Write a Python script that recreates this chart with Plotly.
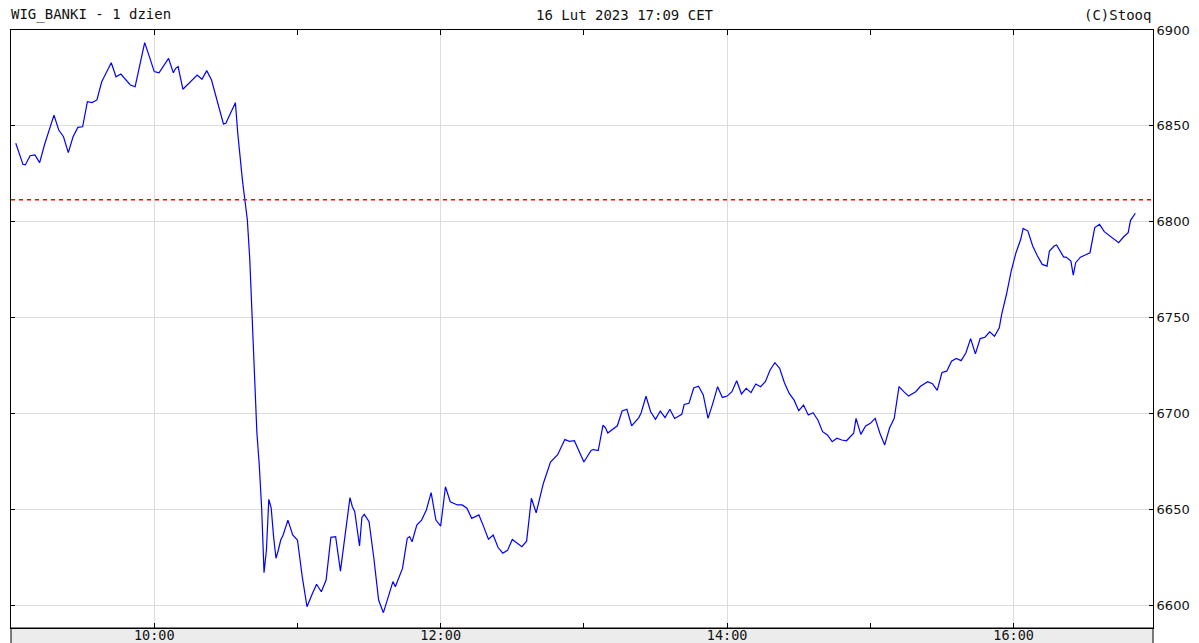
import plotly.graph_objects as go
import pandas as pd

# ---------------- data ----------------
session_date = "2023-02-16"
session_open = "09:00"

minutes_after_open = [
    2, 5, 6, 8, 10, 12, 14, 18, 20, 22,
    24, 26, 28, 30, 32, 34, 36, 38, 42, 44,
    46, 50, 52, 56, 58, 60, 62, 64, 66, 68,
    69, 70, 72, 78, 80, 82, 84, 89, 90, 94,
    95, 97, 99, 100, 101, 102, 103, 104, 105, 106,
    107, 108, 109, 110, 111, 112, 113, 114, 116, 118,
    120, 122, 124, 126, 128, 130, 132, 134, 136, 138,
    140, 142, 143, 144, 146, 147, 148, 150, 152, 154,
    156, 158, 160, 161, 164, 166, 167, 168, 170, 172,
    174, 176, 177, 178, 180, 181, 182, 184, 187, 189,
    191, 193, 196, 198, 200, 202, 204, 206, 208, 210,
    214, 216, 218, 220, 223, 226, 229, 232, 234, 236,
    240, 243, 244, 246, 248, 249, 250, 254, 256, 258,
    260, 263, 264, 266, 268, 270, 272, 274, 276, 278,
    281, 282, 284, 286, 288, 290, 292, 294, 296, 298,
    300, 302, 304, 306, 308, 310, 312, 314, 316, 318,
    320, 322, 324, 326, 328, 330, 332, 334, 336, 338,
    340, 342, 344, 346, 348, 350, 353, 354, 355, 356,
    358, 360, 362, 364, 366, 368, 370, 372, 374, 376,
    379, 381, 384, 386, 388, 390, 392, 394, 396, 398,
    400, 402, 404, 406, 408, 410, 412, 414, 415, 417,
    419, 421, 423, 424, 426, 428, 430, 432, 434, 435,
    437, 438, 441, 442, 444, 445, 446, 448, 450, 452,
    454, 456, 458, 462, 464, 466, 468, 469, 471,
]

index_values = [
    6840.9, 6829.9, 6829.6, 6834.4, 6834.8, 6830.8, 6840.0, 6855.6, 6847.8, 6844.3,
    6836.0, 6844.3, 6849.2, 6849.5, 6862.6, 6862.1, 6863.5, 6873.0, 6882.9, 6875.6,
    6877.0, 6871.3, 6870.4, 6893.4, 6886.0, 6878.3, 6877.7, 6881.7, 6885.2, 6877.7,
    6880.0, 6880.9, 6869.1, 6876.5, 6874.3, 6878.8, 6873.9, 6851.0, 6851.3, 6862.1,
    6846.0, 6821.0, 6801.0, 6781.0, 6750.0, 6719.0, 6690.0, 6673.0, 6650.5, 6616.9,
    6628.7, 6655.1, 6650.5, 6635.7, 6624.4, 6628.7, 6633.9, 6636.5, 6644.3, 6636.5,
    6633.9, 6614.8, 6599.1, 6605.2, 6610.8, 6606.9, 6613.0, 6635.3, 6635.7, 6617.7,
    6635.7, 6656.0, 6651.3, 6648.7, 6630.8, 6645.7, 6647.3, 6643.5, 6624.4, 6602.6,
    6596.0, 6604.3, 6612.2, 6609.5, 6619.1, 6634.8, 6635.7, 6633.0, 6641.7, 6644.3,
    6649.6, 6658.6, 6652.2, 6644.3, 6641.2, 6652.2, 6661.7, 6653.9, 6652.2, 6652.2,
    6650.5, 6645.2, 6647.0, 6640.9, 6634.3, 6636.5, 6630.1, 6627.0, 6628.5, 6634.2,
    6630.4, 6633.3, 6655.7, 6648.1, 6663.4, 6674.6, 6678.4, 6686.3, 6685.4, 6685.7,
    6674.6, 6680.6, 6681.1, 6680.6, 6693.8, 6692.6, 6689.7, 6693.5, 6701.2, 6702.1,
    6693.5, 6697.8, 6700.3, 6708.9, 6700.7, 6696.9, 6701.2, 6697.8, 6702.1, 6697.3,
    6699.5, 6704.6, 6705.2, 6713.2, 6714.1, 6709.6, 6697.4, 6705.2, 6713.9, 6708.3,
    6709.0, 6711.3, 6717.0, 6710.1, 6713.0, 6710.8, 6715.3, 6713.9, 6716.5, 6722.6,
    6726.4, 6723.5, 6716.0, 6710.4, 6707.0, 6701.4, 6704.3, 6699.1, 6700.3, 6696.5,
    6690.4, 6688.7, 6685.2, 6687.0, 6686.1, 6685.7, 6689.6, 6697.4, 6693.0, 6689.0,
    6693.4, 6694.8, 6697.4, 6689.6, 6683.5, 6692.2, 6697.4, 6713.9, 6711.3, 6709.0,
    6711.3, 6714.1, 6716.5, 6715.5, 6712.0, 6721.3, 6722.0, 6727.2, 6728.6, 6727.5,
    6731.5, 6739.0, 6731.0, 6739.0, 6739.7, 6742.5, 6740.2, 6744.6, 6751.6, 6762.0,
    6774.2, 6783.8, 6790.8, 6796.5, 6795.1, 6787.3, 6782.1, 6777.7, 6776.8, 6784.7,
    6787.3, 6787.8, 6781.5, 6781.5, 6779.4, 6772.1, 6778.6, 6781.5, 6782.6, 6783.8,
    6796.9, 6798.6, 6794.8, 6790.8, 6789.0, 6792.0, 6794.3, 6800.7, 6804.4,
]

previous_close = 6811.5
y_tick_values = [6600, 6650, 6700, 6750, 6800, 6850, 6900]
x_tick_labels = ["10:00", "12:00", "14:00", "16:00"]
x_axis_start = "09:00:00"
x_axis_end = "16:58:24"

title_left = "WIG_BANKI - 1 dzien"
title_center = "16 Lut 2023 17:09 CET"
title_right = "(C)Stooq"

assert len(minutes_after_open) == len(index_values)

# ---------------- build ----------------
t0 = pd.Timestamp(f"{session_date} {session_open}")
times = t0 + pd.to_timedelta(minutes_after_open, unit="min")
x_tick_vals = [pd.Timestamp(f"{session_date} {lab}") for lab in x_tick_labels]

mono = "DejaVu Sans Mono"

fig = go.Figure(
    go.Scatter(
        x=times,
        y=index_values,
        mode="lines",
        line=dict(color="#0000ff", width=1.2),
        hoverinfo="x+y",
    )
)

fig.update_layout(
    width=1199,
    height=643,
    margin=dict(l=11, r=46, t=30, b=15, autoexpand=False),
    paper_bgcolor="white",
    plot_bgcolor="white",
    showlegend=False,
    xaxis=dict(
        type="date",
        range=[f"{session_date} {x_axis_start}", f"{session_date} {x_axis_end}"],
        tickvals=x_tick_vals,
        ticktext=x_tick_labels,
        ticks="inside",
        ticklen=5,
        tickcolor="black",
        tickwidth=1,
        showline=True,
        linecolor="black",
        linewidth=1,
        mirror="ticks",
        showgrid=True,
        gridcolor="#dcdcdc",
        gridwidth=1,
        zeroline=False,
        automargin=False,
        ticklabelstandoff=-5,
        tickfont=dict(family=mono, size=13.5, color="#111"),
        minor=dict(
            dtick=3600000,
            tick0=f"{session_date} {session_open}",
            ticks="inside",
            ticklen=5,
            tickcolor="black",
            showgrid=False,
        ),
        fixedrange=True,
    ),
    yaxis=dict(
        side="right",
        range=[6588, 6900],
        tickvals=y_tick_values,
        ticks="inside",
        ticklen=4,
        tickcolor="black",
        showline=True,
        linecolor="black",
        linewidth=1,
        mirror="ticks",
        showgrid=True,
        gridcolor="#dcdcdc",
        gridwidth=1,
        zeroline=False,
        automargin=False,
        tickfont=dict(family="DejaVu Sans", size=13, color="#111"),
        fixedrange=True,
    ),
    shapes=[
        dict(
            type="rect", xref="paper", yref="paper",
            x0=0, x1=1, y0=-0.03, y1=0,
            fillcolor="#ececec", line=dict(color="black", width=1),
            layer="below",
        ),
        dict(
            type="line", xref="paper", yref="y",
            x0=0, x1=1, y0=previous_close, y1=previous_close,
            line=dict(color="#ff0000", width=1.5, dash="4px,4px"),
            layer="above",
        ),
    ],
    annotations=[
        dict(text=title_left, xref="paper", yref="paper", x=0, y=1.0251,
             xanchor="left", yanchor="middle", showarrow=False, xshift=-2,
             font=dict(family=mono, size=14, color="#111")),
        dict(text=title_center, xref="paper", yref="paper", x=0.5377, y=1.0251,
             xanchor="center", yanchor="middle", showarrow=False,
             font=dict(family=mono, size=14, color="#111")),
        dict(text=title_right, xref="paper", yref="paper", x=1, y=1.0251,
             xanchor="right", yanchor="middle", showarrow=False,
             font=dict(family=mono, size=14, color="#111")),
    ],
)

fig.write_html(
    "out.html",
    config={"displayModeBar": False},
    post_script="document.body.style.margin='0';document.body.style.padding='0';",
)
